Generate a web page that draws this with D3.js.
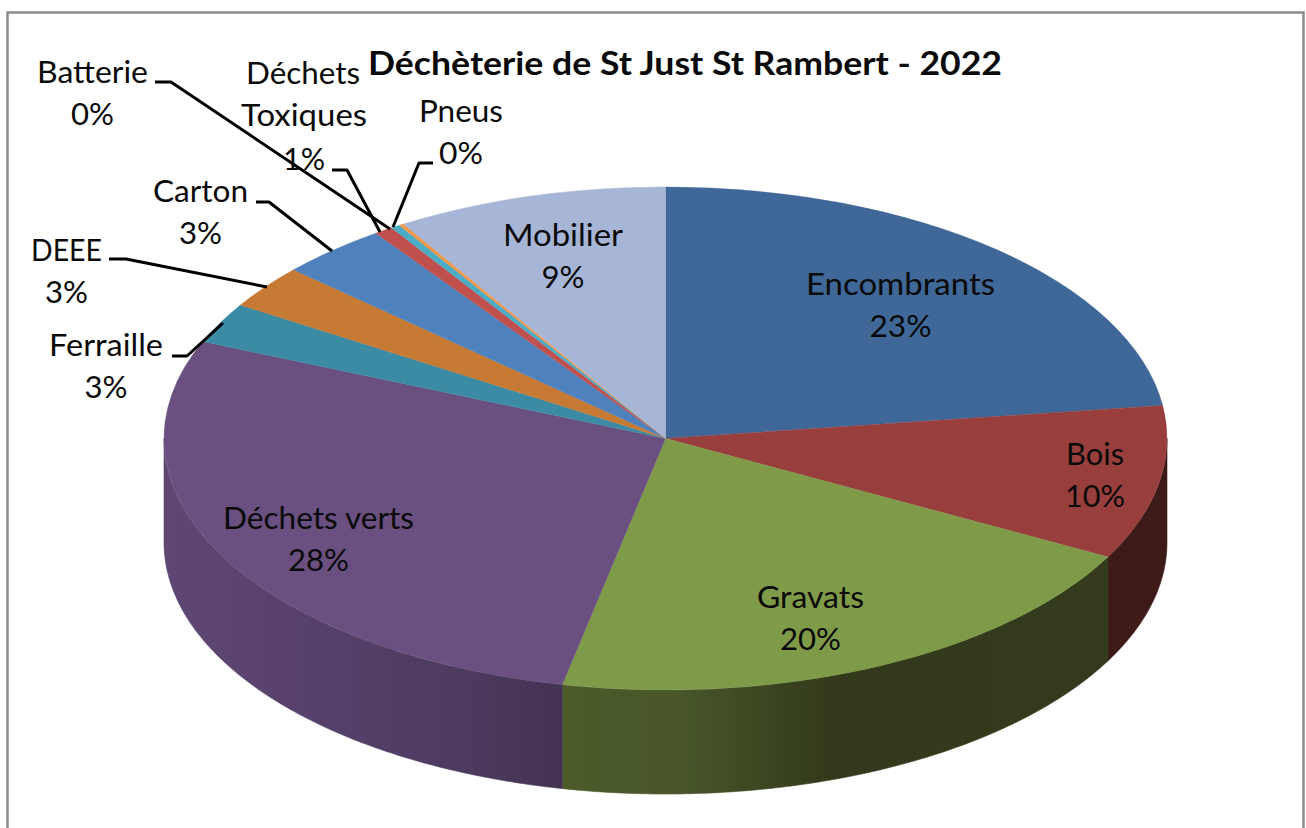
<!DOCTYPE html>
<html><head><meta charset="utf-8">
<script src="https://cdn.jsdelivr.net/npm/d3@7/dist/d3.min.js"></script>
<style>html,body{margin:0;padding:0;background:#fff}svg{display:block}text{font-family:Lato,"Liberation Sans",sans-serif;fill:#0a0a0a}</style>
</head><body><svg id="c" width="1306" height="828"></svg>
<script>
const categories=["Encombrants","Bois","Gravats","Déchets verts","Ferraille","DEEE","Carton","Déchets Toxiques","Batterie","Pneus","Mobilier"];
const values=[22.9,9.9,20.5,28.0,2.6,2.8,3.5,0.6,0.3,0.15,8.75];
const percentLabels=["23%","10%","20%","28%","3%","3%","3%","1%","0%","0%","9%"];
const colors=["#3f6797","#983f3d","#7f9a48","#695080","#3a8ba3","#c77a33","#4f81bd","#c0504d","#4bacc6","#f79646","#a7b5d6"];
const chartTitle="Déchèterie de St Just St Rambert - 2022";

const svg=d3.select("#c");
const cx=665.5,cy=438.5,rx=501.5,ry=251.5,depth=104;
const FS=31;

// frame
svg.append("path").attr("d","M7.5,828V12.5H1303.5V828").attr("fill","none").attr("stroke","#8c8c8c").attr("stroke-width",2.5);

const arcs=d3.pie().sort(null).value(d=>d)(values);
const pt=a=>[cx+rx*Math.sin(a),cy-ry*Math.cos(a)];

// gradients for the sides
const defs=svg.append("defs");
function grad(id,stops){
  const g=defs.append("linearGradient").attr("id",id).attr("gradientUnits","userSpaceOnUse")
    .attr("x1",cx-rx).attr("x2",cx+rx).attr("y1",0).attr("y2",0);
  stops.forEach(s=>g.append("stop").attr("offset",(s[0]-(cx-rx))/(2*rx)).attr("stop-color",s[1]));
}
grad("side3",[[164,"#5f4774"],[350,"#543f68"],[480,"#4c3a5e"],[563,"#443253"]]);
grad("side2",[[563,"#4c5b29"],[680,"#48562a"],[830,"#333a1b"],[1108,"#333b1c"]]);
grad("side1",[[1108,"#3f1b18"],[1167,"#3c1a17"]]);
const sideFill={1:"url(#side1)",2:"url(#side2)",3:"url(#side3)"};

// extruded sides: only the front half of the ellipse
const line=d3.line();
arcs.forEach((d,i)=>{
  const a0=Math.max(d.startAngle,Math.PI/2),a1=Math.min(d.endAngle,Math.PI*1.5);
  if(a1<=a0)return;
  const top=d3.range(0,121).map(k=>pt(a0+(a1-a0)*k/120));
  const bot=top.slice().reverse().map(p=>[p[0],p[1]+depth]);
  svg.append("path").attr("d",line(top.concat(bot))+"Z").attr("fill",sideFill[i]||colors[i])
    .attr("stroke",sideFill[i]||colors[i]).attr("stroke-width",0.6);
});

// top face
const arc=d3.arc().innerRadius(0).outerRadius(rx);
svg.append("g").attr("transform",`translate(${cx},${cy}) scale(1,${ry/rx})`)
  .selectAll("path").data(arcs).join("path")
  .attr("d",arc).attr("fill",(d,i)=>colors[i])
  .attr("stroke",(d,i)=>colors[i]).attr("stroke-width",0.5);

// leader lines
const leaders=[
 [[172,356],[187,356],[223,323]],
 [[109,259],[126,259],[267,287]],
 [[256,202],[269,202],[332,251]],
 [[332,170],[347,170],[380,232]],
 [[155,82],[171,82],[390,229]],
 [[433,163],[419,163],[393,227]]
];
leaders.forEach(l=>{
  svg.append("path").attr("d",line(l)).attr("fill","none")
    .attr("stroke","#000").attr("stroke-width",3).attr("stroke-linejoin","round");
});

// labels: rows are [text, centre x, baseline y, width]
function put(t,x,y,w,bold){
  svg.append("text").attr("x",x).attr("y",y).attr("text-anchor","middle")
    .attr("font-size",bold?32:FS).attr("font-weight",bold?700:400)
    .attr("textLength",w).attr("lengthAdjust","spacingAndGlyphs").text(t);
}
const labelPos=[
 {i:0,x:900.5,y:295,w:189,pw:62},
 {i:1,x:1095,y:465,w:58,pw:60},
 {i:2,x:810.5,y:608,w:107,pw:61},
 {i:3,x:318.5,y:529,w:191,pw:61},
 {i:4,x:106,y:356,w:114,pw:43},
 {i:5,x:66.5,y:261,w:71,pw:43},
 {i:6,x:200.5,y:202,w:95,pw:43},
 {i:8,x:92.5,y:83,w:111,pw:43},
 {i:9,x:461,y:122,w:84,pw:44},
 {i:10,x:563,y:246,w:120,pw:43}
];
labelPos.forEach(l=>{
  put(categories[l.i],l.x,l.y,l.w);
  put(percentLabels[l.i],l.x,l.y+42,l.pw);
});
put("Déchets",303,84,114);
put("Toxiques",304,126,126);
put(percentLabels[7],304,170,42);
put(chartTitle,685,75,634,true);
</script></body></html>
